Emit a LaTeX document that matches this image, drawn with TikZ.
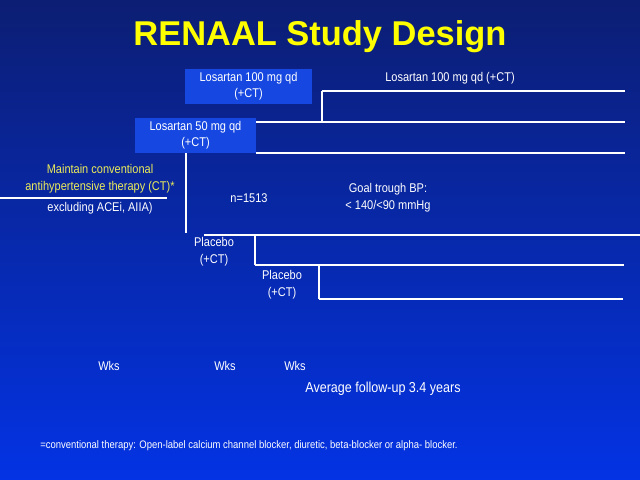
\documentclass[tikz,border=0pt]{standalone}
\usepackage{fontspec}
\setmainfont{Liberation Sans}
\newfontfamily\narrowsf[FakeStretch=0.87]{Liberation Sans}
\usetikzlibrary{positioning}
\definecolor{navytop}{RGB}{12,30,115}
\definecolor{bluemid}{RGB}{10,52,195}
\definecolor{bluebot}{RGB}{3,51,228}
\definecolor{boxblue}{RGB}{22,72,225}
\definecolor{titleyellow}{RGB}{255,255,0}
\definecolor{ctyellow}{RGB}{235,235,90}
\tikzset{
  arm/.style = {draw=white, line width=0.8pt},
  armbox/.style = {fill=boxblue, text=white, align=center, inner sep=0pt,
                   font=\narrowsf\fontsize{7.2}{9}\selectfont},
  lbl/.style = {text=white, align=center, inner sep=0pt,
                font=\narrowsf\fontsize{7.2}{9.5}\selectfont},
}

\begin{document}
\begin{tikzpicture}[x=0.02cm, y=-0.02cm]
  % background
  \shade [top color=navytop, middle color=bluemid, bottom color=bluebot]
    (0,0) rectangle (640,480);
  \useasboundingbox (0,0) rectangle (640,480);

  \node [text=titleyellow, font=\bfseries\fontsize{19.6}{22}\selectfont] (title) at (320,37) {RENAAL Study Design};

  % treatment boxes
  \node [armbox, minimum width=2.56cm, minimum height=0.7cm] (los100) at (248.5,86.5) {Losartan 100 mg qd\\(+CT)};
  \node [armbox, minimum width=2.42cm, minimum height=0.7cm] (los50) at (195.5,135.5) {Losartan 50 mg qd\\(+CT)};

  % arm coordinates
  \coordinate (a1) at (322,91);   \coordinate (a1e) at (625,91);
  \coordinate (a2) at (322,122);  \coordinate (a2e) at (625,122);
  \coordinate (a3e) at (625,153);
  \coordinate (p0) at (186,235);  \coordinate (p1) at (204,235);  \coordinate (p1e) at (640,235);
  \coordinate (q1) at (255,235);  \coordinate (q2) at (255,265);  \coordinate (q2e) at (624,265);
  \coordinate (r1) at (319,265);  \coordinate (r2) at (319,299);  \coordinate (r2e) at (623,299);
  \coordinate (c0) at (0,198);    \coordinate (c1) at (167,198);

  \draw [arm] (a1) -- (a1e);
  \draw [arm] (a1) -- (a2);
  \draw [arm] (los50.east |- a2) -- (a2e);
  \draw [arm] (los50.east |- a3e) -- (a3e);
  \draw [arm] (los50.south -| p0) -- ([yshift=0.04cm]p0);
  \draw [arm] (p1) -- (p1e);
  \draw [arm] (q1) -- (q2);
  \draw [arm] (q2) -- (q2e);
  \draw [arm] (r1) -- (r2);
  \draw [arm] (r2) -- (r2e);
  \draw [arm] (c0) -- (c1);

  % labels
  \node [lbl] (top100) at (450,78) {Losartan 100 mg qd (+CT)};
  \node [lbl, text=ctyellow] (ct) at (100,178.5) {Maintain conventional\\antihypertensive therapy (CT)*};
  \node [lbl] (excl) at (100,208) {excluding ACEi, AIIA)};
  \node [lbl] (n) at (249,198) {n=1513};
  \node [lbl] (goal) at (388,198) {Goal trough BP:\\< 140/<90 mmHg};
  \node [lbl] (plac1) at (214,251.5) {Placebo\\(+CT)};
  \node [lbl] (plac2) at (282,284.5) {Placebo\\(+CT)};
  \foreach \x [count=\i] in {109,225,295}
    \node [lbl] (wks\i) at (\x,366) {Wks};
  \node [lbl, font=\narrowsf\fontsize{8.2}{10}\selectfont] (fu) at (383,389) {Average follow-up 3.4 years};
  \node [lbl, anchor=west, font=\narrowsf\fontsize{6.2}{7.5}\selectfont] (note) at (40,446)
    {=conventional therapy: Open-label calcium channel blocker, diuretic, beta-blocker or alpha- blocker.};
\end{tikzpicture}
\end{document}
